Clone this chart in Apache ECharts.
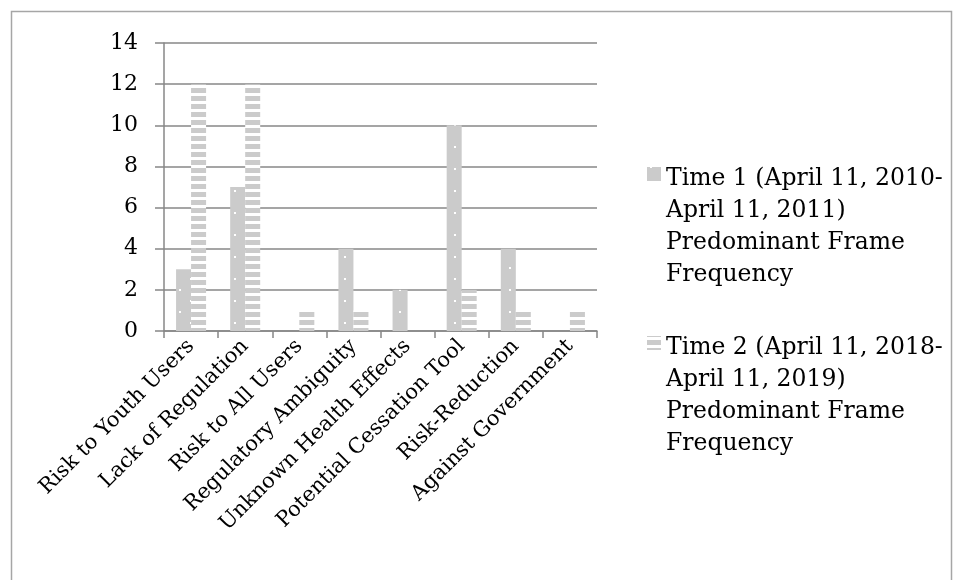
<!DOCTYPE html>
<html>
<head>
<meta charset="utf-8">
<script src="https://cdn.jsdelivr.net/npm/echarts@6/dist/echarts.min.js"></script>
<style>
html,body{margin:0;padding:0;background:#fff;}
#chart{width:959px;height:580px;}
</style>
</head>
<body>
<div id="chart"></div>
<script>
var categories = ['Risk to Youth Users','Lack of Regulation','Risk to All Users','Regulatory Ambiguity','Unknown Health Effects','Potential Cessation Tool','Risk-Reduction','Against Government'];
var time1Values = [3, 7, 0, 4, 2, 10, 4, 0];
var time2Values = [12, 12, 1, 1, 0, 2, 1, 1];
var seriesNames = ['Time 1 (April 11, 2010-\nApril 11, 2011)\nPredominant Frame\nFrequency', 'Time 2 (April 11, 2018-\nApril 11, 2019)\nPredominant Frame\nFrequency'];
var yTicks = [0, 2, 4, 6, 8, 10, 12, 14];

var FONT = 'DejaVu Serif';
var GRAY = '#cbcbcb';

function dotPattern() {
  var c = document.createElement('canvas');
  c.width = 22; c.height = 22;
  var ctx = c.getContext('2d');
  ctx.fillStyle = GRAY; ctx.fillRect(0, 0, 22, 22);
  ctx.fillStyle = '#ffffff';
  ctx.fillRect(3, 3, 2, 2);
  ctx.fillRect(14, 14, 2, 2);
  return c;
}
function stripePattern() {
  var c = document.createElement('canvas');
  c.width = 8; c.height = 8;
  var ctx = c.getContext('2d');
  ctx.fillStyle = '#ffffff'; ctx.fillRect(0, 0, 8, 8);
  ctx.fillStyle = GRAY; ctx.fillRect(0, 0, 8, 5);
  return c;
}
var pat1 = {image: dotPattern(), repeat: 'repeat'};
var pat2 = {image: stripePattern(), repeat: 'repeat'};

var chart = echarts.init(document.getElementById('chart'), null, {renderer: 'canvas'});
var legendIcon = 'path://M0,8H14V22H0Z M0,127.99H0.01V128H0Z';
chart.setOption({
  animation: false,
  backgroundColor: '#ffffff',
  textStyle: {fontFamily: FONT},
  graphic: [{
    type: 'rect', left: 9, top: 9, silent: true,
    shape: {x: 0, y: 0, width: 940, height: 600},
    style: {fill: 'none', stroke: '#a6a6a6', lineWidth: 1.5}
  }],
  grid: {left: 164, right: 362, top: 43, bottom: 249, containLabel: false},
  legend: {
    orient: 'vertical', left: 647, top: 163, padding: 0,
    itemWidth: 14, itemHeight: 128, itemGap: 41,
    icon: legendIcon,
    textStyle: {fontFamily: FONT, fontSize: 23.5, color: '#000', lineHeight: 32, padding: [0,0,0,0]},
    data: seriesNames
  },
  xAxis: {
    type: 'category', data: categories,
    axisLine: {lineStyle: {color: '#878787', width: 1.5}},
    axisTick: {show: true, length: 7, lineStyle: {color: '#878787', width: 1.5}},
    axisLabel: {rotate: 45, interval: 0, fontFamily: FONT, fontSize: 21, color: '#000', margin: 12}
  },
  yAxis: {
    type: 'value', min: 0, max: 14, interval: 2,
    axisLine: {show: true, lineStyle: {color: '#878787', width: 1.5}},
    axisTick: {show: true, length: 9, lineStyle: {color: '#878787', width: 1.5}},
    splitLine: {lineStyle: {color: '#878787', width: 1.5}},
    axisLabel: {fontFamily: FONT, fontSize: 22, color: '#000', margin: 26,
      formatter: function (v) { return yTicks.indexOf(v) >= 0 ? String(v) : ''; }}
  },
  series: [
    {name: seriesNames[0], type: 'bar', data: time1Values, barWidth: 15, barGap: '0%', itemStyle: {color: pat1}},
    {name: seriesNames[1], type: 'bar', data: time2Values, barWidth: 15, barGap: '0%', itemStyle: {color: pat2}}
  ]
});
</script>
</body>
</html>
